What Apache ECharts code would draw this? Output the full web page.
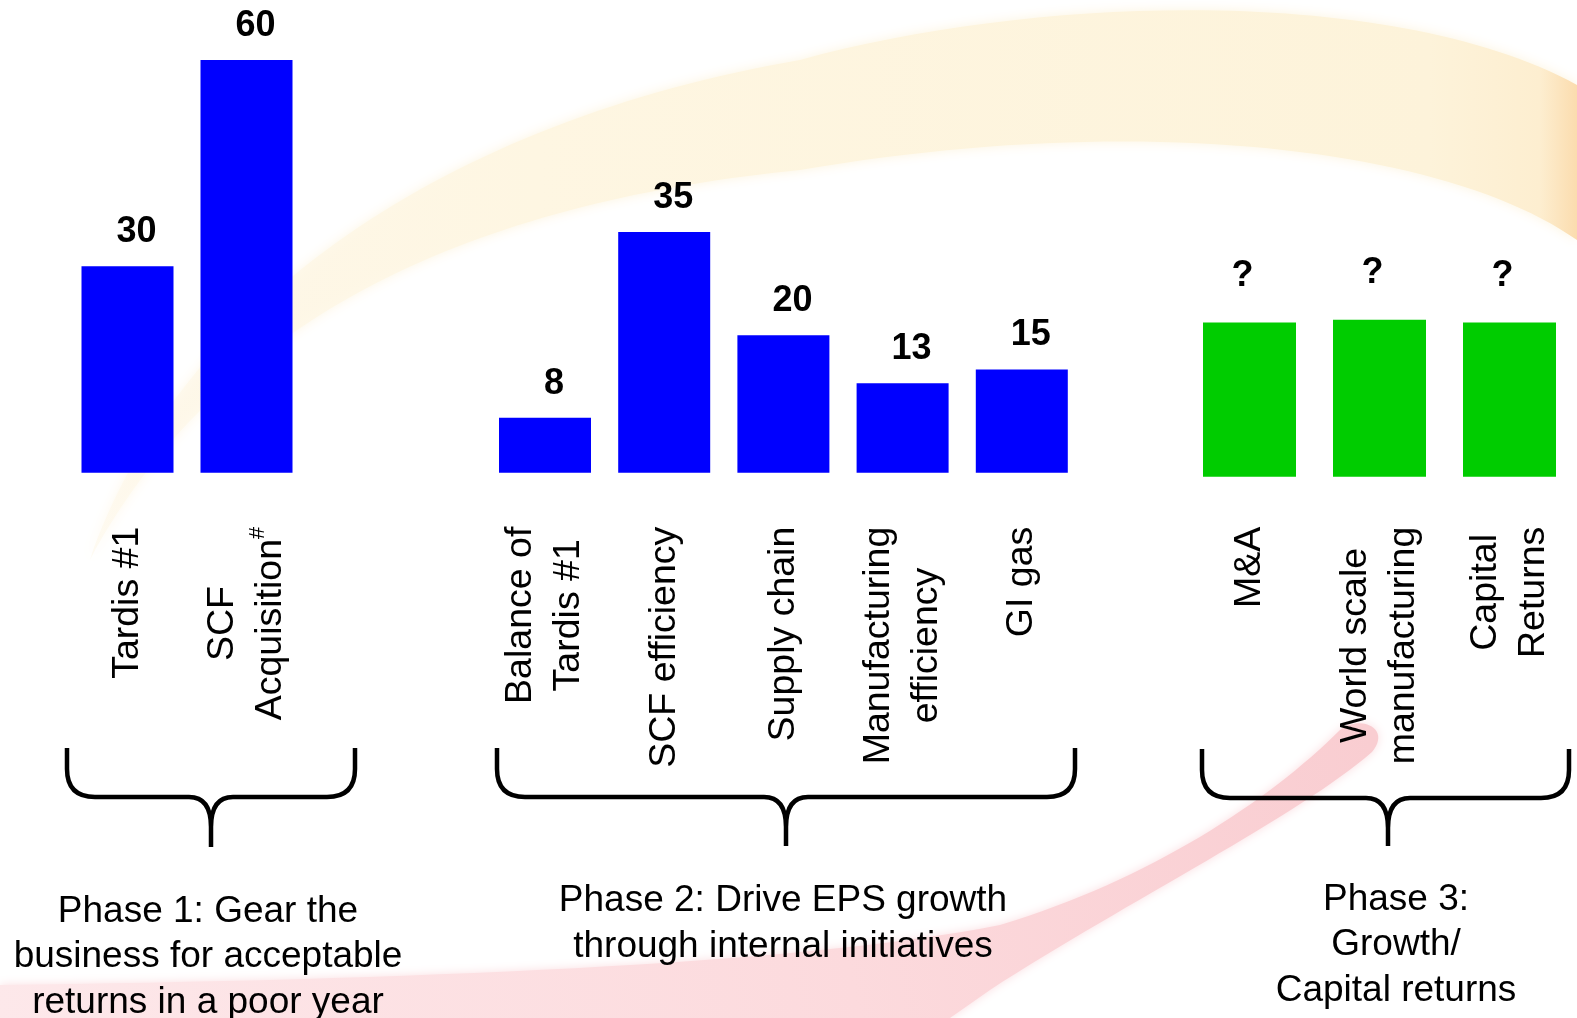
<!DOCTYPE html>
<html>
<head>
<meta charset="utf-8">
<title>EPS growth phases</title>
<script src="https://cdn.jsdelivr.net/npm/echarts@6.0.0/dist/echarts.min.js"></script>
<style>
  html, body { margin: 0; padding: 0; background: #ffffff; }
  #chart { width: 1577px; height: 1018px; }
</style>
</head>
<body>
<div id="chart"></div>
<script>
// ---- data ----
const phase1Categories = ['Tardis #1', 'SCF\nAcquisition#'];
const phase1Values = [30, 60];

const phase2Categories = ['Balance of\nTardis #1', 'SCF efficiency', 'Supply chain', 'Manufacturing\nefficiency', 'GI gas'];
const phase2Values = [8, 35, 20, 13, 15];

const phase3Categories = ['M&A', 'World scale\nmanufacturing', 'Capital\nReturns'];
const phase3Values = [22.4, 22.8, 22.4];
const phase3Label = '?';

const phaseTitles = [
  'Phase 1: Gear the\nbusiness for acceptable\nreturns in a poor year',
  'Phase 2: Drive EPS growth\nthrough internal initiatives',
  'Phase 3:\nGrowth/\nCapital returns'
];

// ---- styling helpers ----
const FONT = '"Liberation Sans", Arial, Helvetica, sans-serif';
const BLUE = '#0000ff';
const GREEN = '#00cc00';
const TEXT_SIZE = 37.5;

// A free-form outline described as a list of canvas path commands
echarts.graphic.registerShape('cmdPath', echarts.graphic.extendShape({
  shape: { cmds: [] },
  buildPath: function (ctx, shape) {
    shape.cmds.forEach(function (c) {
      ctx[c[0]].apply(ctx, c.slice(1));
    });
  }
}));

// Each category line is centred inside its block; a trailing '#' is set as a superscript.
function richLabel(name) {
  return name.split('\n').map(function (line) {
    if (line.endsWith('#')) return '{t|' + line.slice(0, -1) + '}{s|#}';
    return '{t|' + line + '}';
  }).join('\n');
}
const labelRich = {
  t: { fontSize: TEXT_SIZE, fontFamily: FONT, color: '#000', lineHeight: 48, align: 'center' },
  s: { fontSize: 22, fontFamily: FONT, color: '#000', lineHeight: 41, align: 'center', verticalAlign: 'top' }
};

function categoryAxis(gridIndex, data, margin) {
  return {
    type: 'category', gridIndex: gridIndex, data: data,
    axisLine: { show: false }, axisTick: { show: false }, splitLine: { show: false },
    axisLabel: {
      interval: 0, rotate: 90, margin: margin, hideOverlap: false,
      formatter: richLabel, rich: labelRich
    }
  };
}
function valueAxis(gridIndex) {
  return { type: 'value', gridIndex: gridIndex, min: 0, max: 60, show: false };
}
function barSeries(idx, values, color, width, labelFormatter, distance, dx) {
  return {
    type: 'bar', xAxisIndex: idx, yAxisIndex: idx, data: values,
    barWidth: width, itemStyle: { color: color }, z: 3,
    label: {
      show: true, position: 'top', distance: distance, offset: [dx, 0],
      fontSize: 36, fontWeight: 'bold', fontFamily: FONT, color: '#000',
      formatter: labelFormatter
    }
  };
}

// Curly brace under a group of bars
function braceCmds(xl, xr, xm, yTop, yBar, yTip) {
  const r = 28, c = 22, d = 30;
  return [
    ['moveTo', xl, yTop], ['lineTo', xl, yBar - r],
    ['quadraticCurveTo', xl, yBar, xl + r, yBar],
    ['lineTo', xm - c, yBar],
    ['quadraticCurveTo', xm, yBar, xm, yBar + d],
    ['lineTo', xm, yTip],
    ['moveTo', xm, yBar + d],
    ['quadraticCurveTo', xm, yBar, xm + c, yBar],
    ['lineTo', xr - r, yBar],
    ['quadraticCurveTo', xr, yBar, xr, yBar - r],
    ['lineTo', xr, yTop]
  ];
}
function brace(xl, xr, xm, yTop, yBar, yTip) {
  return {
    type: 'cmdPath', z: 5,
    shape: { cmds: braceCmds(xl, xr, xm, yTop, yBar, yTip) },
    style: { fill: null, stroke: '#000', lineWidth: 4.5, lineJoin: 'round' }
  };
}
function phaseText(text, x, y) {
  return {
    type: 'text', x: x, y: y, z: 5,
    style: {
      text: text, fontSize: 37, fontFamily: FONT, fill: '#000',
      align: 'center', verticalAlign: 'top', lineHeight: 45.5
    }
  };
}
function linearGradient(x, y, x2, y2, stops) {
  return { type: 'linear', x: x, y: y, x2: x2, y2: y2, global: true, colorStops: stops };
}

const chart = echarts.init(document.getElementById('chart'), null, { renderer: 'canvas' });

// Decorative swooshes behind the chart
const yellowSwoosh = {
  type: 'cmdPath', z: -10,
  shape: { cmds: [
    ['moveTo', 90, 560],
    ['bezierCurveTo', 180, 300, 450, 120, 800, 60],
    ['bezierCurveTo', 1050, -8, 1400, -12, 1577, 85],
    ['lineTo', 1577, 240],
    ['bezierCurveTo', 1450, 150, 1150, 110, 800, 170],
    ['bezierCurveTo', 500, 200, 230, 300, 90, 560],
    ['closePath']
  ] },
  style: {
    fill: linearGradient(90, 0, 1577, 0, [
      { offset: 0, color: 'rgba(254,248,234,0.6)' },
      { offset: 0.3, color: '#fef6e2' },
      { offset: 0.9, color: '#fdf3da' },
      { offset: 0.975, color: '#fdeed0' },
      { offset: 1, color: '#fbdcae' }
    ]),
    shadowBlur: 12, shadowColor: 'rgba(253,243,220,0.9)'
  }
};
const pinkSwoosh = {
  type: 'cmdPath', z: -9,
  shape: { cmds: [
    ['moveTo', 0, 985],
    ['bezierCurveTo', 400, 980, 800, 965, 1000, 925],
    ['bezierCurveTo', 1150, 880, 1270, 800, 1340, 730],
    ['bezierCurveTo', 1360, 714, 1392, 728, 1372, 752],
    ['bezierCurveTo', 1300, 815, 1130, 900, 990, 990],
    ['lineTo', 950, 1018],
    ['lineTo', 0, 1018],
    ['closePath']
  ] },
  style: {
    fill: linearGradient(0, 1018, 1370, 730, [
      { offset: 0, color: '#fde8ea' },
      { offset: 0.6, color: '#fcdadd' },
      { offset: 1, color: '#f9cdd1' }
    ]),
    shadowBlur: 10, shadowColor: 'rgba(250,214,218,0.8)'
  }
};

chart.setOption({
  backgroundColor: '#ffffff',
  animation: false,
  grid: [
    { left: 68, top: 60, width: 238, height: 412.7 },
    { left: 485.4, top: 60, width: 596, height: 412.7 },
    { left: 1184.5, top: 63.9, width: 390, height: 412.8 }
  ],
  xAxis: [
    categoryAxis(0, phase1Categories, 54),
    categoryAxis(1, phase2Categories, 54),
    categoryAxis(2, phase3Categories, 50)
  ],
  yAxis: [valueAxis(0), valueAxis(1), valueAxis(2)],
  series: [
    barSeries(0, phase1Values, BLUE, 92, '{c}', 16, 9),
    barSeries(1, phase2Values, BLUE, 92, '{c}', 16, 9),
    barSeries(2, phase3Values, GREEN, 93, function () { return phase3Label; }, 29, -7)
  ],
  graphic: {
    elements: [
      yellowSwoosh,
      pinkSwoosh,
      brace(67, 355, 211, 748, 797, 847),
      brace(497, 1075, 786, 748, 797, 846),
      brace(1202, 1569, 1388, 749, 798, 846),
      phaseText(phaseTitles[0], 208, 889),
      phaseText(phaseTitles[1], 783, 878.5),
      phaseText(phaseTitles[2], 1396, 877)
    ]
  }
});
</script>
</body>
</html>
